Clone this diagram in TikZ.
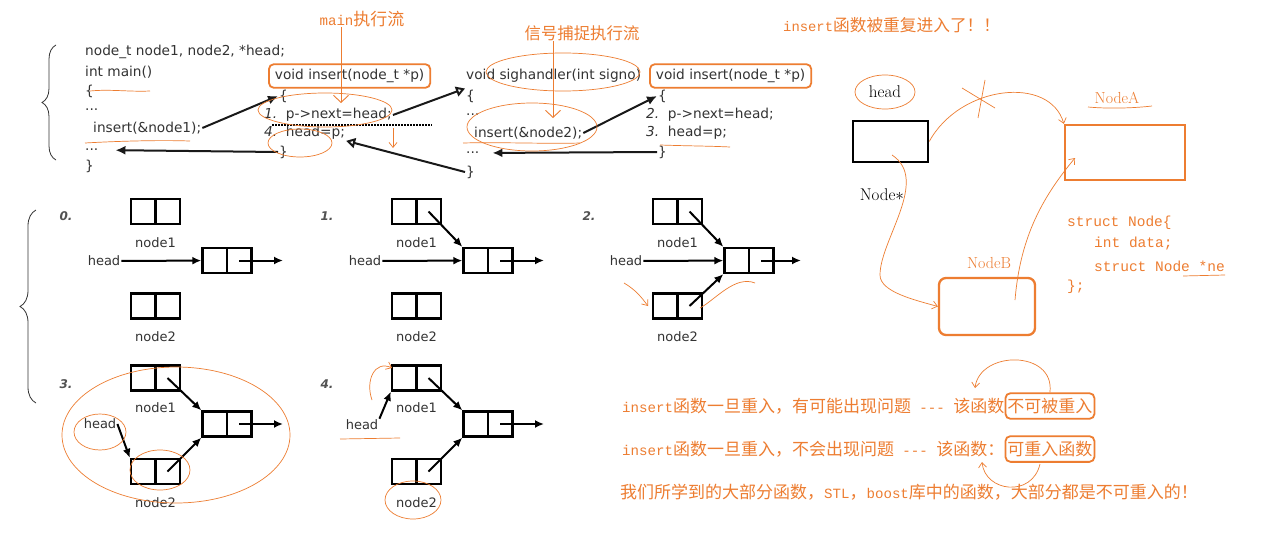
\documentclass[tikz,border=0pt]{standalone}
\usepackage{fontspec}
\newfontfamily\codefont{DejaVu Sans}[ItalicFont={DejaVu Sans Oblique},BoldItalicFont={DejaVu Sans Bold Oblique}]
\newfontfamily\cjk{Noto Sans CJK SC}
\newfontfamily\hmono{Liberation Mono}[Scale=0.83]
\newfontfamily\stfont{Liberation Mono}
\usetikzlibrary{positioning,arrows.meta,calc,decorations.pathreplacing}
\definecolor{ink}{HTML}{ED7D31}
\definecolor{codegray}{HTML}{333333}

\tikzset{
  code/.style={font=\codefont\fontsize{13.7}{16}\selectfont, text=codegray, inner sep=1pt, anchor=west},
  sigbox/.style={code, draw=ink, line width=1.8pt, rounded corners=5pt, inner xsep=6pt, inner ysep=5pt},
  call/.style={-{Latex[length=10pt,width=9pt]}, line width=2pt, black!90},
  ret/.style={-{Triangle[open,length=9pt,width=10pt]}, line width=2pt, black!90},
  flow/.style={ink, line width=0.9pt, -{Straight Barb[length=7pt,width=15pt]}},
  note/.style={font=\cjk\fontsize{17}{20}\selectfont, text=ink, inner sep=0pt, anchor=west},
  hand/.style={ink, line width=0.7pt},
  handarrow/.style={hand, -{Straight Barb[length=5pt,width=8pt]}},
  serif/.style={font=\fontsize{17}{20}\selectfont, inner sep=1pt},
  stc/.style={font=\stfont\fontsize{14.5}{16}\selectfont, text=ink, inner sep=0pt, anchor=west},
  dbox/.style={draw, line width=2.4pt, minimum width=49pt, minimum height=25pt, inner sep=0pt,
    path picture={\draw[line width=2.4pt] (path picture bounding box.north) -- (path picture bounding box.south);}},
  lbl/.style={font=\codefont\fontsize{13}{15}\selectfont, text=codegray, inner sep=1pt},
  stepno/.style={font=\codefont\bfseries\itshape\fontsize{12}{14}\selectfont, text=codegray!85},
  ptr/.style={-{Latex[length=9pt,width=8pt]}, line width=2pt}
}

\begin{document}
\begin{tikzpicture}[x=1pt,y=-1pt]
\fill[white] (0,0) rectangle (1287,538);
\useasboundingbox (0,0) rectangle (1287,538);

% braces
\draw[decorate, decoration={brace, amplitude=14pt}, line width=0.8pt, codegray] (56,160) -- (56,45);
\draw[decorate, decoration={brace, amplitude=16pt}, line width=0.8pt, codegray] (36,403) -- (36,210);

% main
\node[code] (m1) at (84,52) {node\_t node1, node2, *head;};
\node[code] (m2) at (84,72) {int main()};
\node[code] (m3) at (84,91) {\{};
\node[code] (m4) at (84,110) {...};
\node[code] (m5) at (92,128) {insert(\&node1);};
\node[code] (m6) at (84,150) {...};
\node[code] (m7) at (84,166) {\}};

% insert, first entry
\node[sigbox] (ins1) at (268,76) {void insert(node\_t *p)};
\node[code] (i1a) at (278,96) {\{};
\node[code] (i1b) at (263,115) {\textit{1.}\ \ p->next=head;};
\node[code] (i1c) at (263,133) {\textit{4.}\ \ head=p;};
\node[code] (i1d) at (278,152) {\}};
\draw[dash pattern=on 1.5pt off 1.5pt, line width=2pt] (272,125) -- (432,125);

% sighandler
\node[code] (sig) at (465,76) {void sighandler(int signo)};
\node[code] (sa) at (465,96) {\{};
\node[code] (sb) at (465,115) {...};
\node[code] (sc) at (473,133) {insert(\&node2);};
\node[code] (sd) at (465,153) {...};
\node[code] (sz) at (465,172) {\}};

% insert, second entry
\node[sigbox] (ins2) at (649,76) {void insert(node\_t *p)};
\node[code] (i2a) at (657,96) {\{};
\node[code] (i2b) at (645,115) {\textit{2.}\ \ p->next=head;};
\node[code] (i2c) at (645,133) {\textit{3.}\ \ head=p;};
\node[code] (i2d) at (657,152) {\}};

\draw[call] (m5.east) -- (i1a.west);
\draw[call, shorten >=16pt] (i1d.west) -- (m6.east);
\draw[ret] (i1b.east) -- (sa.north west);
\draw[ret] (sz.west) -- (i1c.south east);
\draw[call] (sc.east) -- (i2a.west);
\draw[call, shorten >=12pt] (i2d.west) -- (sd.east);

% flows
\node[note, anchor=center] (mflow) at (362,19) {{\hmono main}执行流};
\coordinate (mflowend) at (341,103);
\draw[flow] (mflow.south -| mflowend) -- (mflowend);
\node[note, anchor=center, font=\cjk\fontsize{16.4}{19}\selectfont] (sflow) at (582,33) {信号捕捉执行流};
\coordinate (sflowend) at (553,118);
\draw[flow] (sflow.south -| sflowend) -- (sflowend);

% scribbles on the code
\draw[hand] (90,91) .. controls (110,89) and (130,92) .. (150,91);
\draw[hand] (85,143) .. controls (120,141) and (160,140) .. (190,141);
\draw[hand] (325,110) ellipse [x radius=67, y radius=17];
\draw[hand] (300,143) ellipse [x radius=32, y radius=14];
\draw[handarrow] (393,128) -- (393,148);
\draw[hand] (563,72) ellipse [x radius=77, y radius=19];
\draw[hand] (532,127) ellipse [x radius=65, y radius=24];
\draw[hand] (463,143) .. controls (500,142) and (550,144) .. (580,143);
\draw[hand] (660,145) .. controls (690,146) and (710,146) .. (730,147);

% right part
\node[note, font=\cjk\fontsize{16.7}{19}\selectfont] (reenter) at (783,25) {{\hmono insert}函数被重复进入了！！};
\node[serif] (headlbl) at (885,92) {head};
\draw[hand] (headlbl) ellipse [x radius=30, y radius=17];
\node[draw, line width=2.5pt, minimum width=75pt, minimum height=41pt] (headbox) at (890.5,141.5) {};
\node[serif] (nodeptr) at (882,195) {Node$\ast$};
\node[draw=ink, line width=2.3pt, minimum width=120pt, minimum height=55pt] (nodeA) at (1125,152.5) {};
\node[serif, text=ink, font=\fontsize{16}{18}\selectfont] (lblA) at (1117,98) {NodeA};
\draw[hand] (1088,107) .. controls (1110,109) and (1135,108) .. (1152,106);
\node[draw=ink, line width=2.3pt, rounded corners=7pt, minimum width=96pt, minimum height=57pt] (nodeB) at (987,306.5) {};
\node[serif, text=ink, font=\fontsize{16}{18}\selectfont] (lblB) at (989,263) {NodeB};
\node[stc] (st1) at (1067,223) {struct Node\{};
\node[stc] (st2) at (1094,244) {int data;};
\node[stc] (st3) at (1094,266) {struct Node *ne};
\node[stc] (st4) at (1067,287) {\};};
\draw[hand] (1183,276) -- (1225,275);

\draw[handarrow] (headbox.east) .. controls (960,85) and (1050,75) .. (nodeA.north west);
\draw[hand] (962,88) -- (995,108);
\draw[hand] (985,80) -- (978,118);
\draw[handarrow] (1015,300) .. controls (1020,240) and (1040,200) .. (1075,158);
\draw[handarrow] (892,155) .. controls (930,180) and (880,240) .. (880,275) .. controls (880,292) and (915,300) .. (nodeB.west);

% lists, top row
\node[stepno] (n0) at (66,216) {0.};
\node[dbox] (d0a) at (155.5,211.5) {};
\node[lbl] (d0al) at (155.5,243) {node1};
\node[lbl] (d0h) at (104,261) {head};
\node[dbox] (d0m) at (227,260.5) {};
\node[dbox] (d0b) at (155.5,306) {};
\node[lbl] (d0bl) at (155.5,337) {node2};
\draw[ptr] (d0h) -- (d0m);
\draw[ptr] ($(d0m.center)+(12,0)$) -- ++(44,0);

\node[stepno] (n1) at (327,216) {1.};
\node[dbox] (d1a) at (416.5,211.5) {};
\node[lbl] (d1al) at (416.5,243) {node1};
\node[lbl] (d1h) at (365,261) {head};
\node[dbox] (d1m) at (488,260.5) {};
\node[dbox] (d1b) at (416.5,306) {};
\node[lbl] (d1bl) at (416.5,337) {node2};
\draw[ptr] (d1h) -- (d1m);
\draw[ptr] ($(d1m.center)+(12,0)$) -- ++(44,0);
\draw[ptr] ($(d1a.center)+(12,0)$) -- (d1m.north west);

\node[stepno] (n2) at (589,216) {2.};
\node[dbox] (d2a) at (677.5,211.5) {};
\node[lbl] (d2al) at (677.5,243) {node1};
\node[lbl] (d2h) at (626,261) {head};
\node[dbox] (d2m) at (749,260.5) {};
\node[dbox] (d2b) at (677.5,306) {};
\node[lbl] (d2bl) at (677.5,337) {node2};
\draw[ptr] (d2h) -- (d2m);
\draw[ptr] ($(d2m.center)+(12,0)$) -- ++(40,0);
\draw[ptr] ($(d2a.center)+(12,0)$) -- (d2m.north west);
\draw[ptr] ($(d2b.center)+(12,0)$) -- (d2m.south west);
\draw[handarrow] (624,283) .. controls (636,290) and (642,298) .. (648,306);
\draw[hand] (700,308) .. controls (715,300) and (735,275) .. (755,283);

% lists, bottom row
\node[stepno] (n3) at (66,384) {3.};
\node[dbox] (d3a) at (155.5,378) {};
\node[lbl] (d3al) at (155.5,408) {node1};
\node[lbl] (d3h) at (100,424) {head};
\node[dbox] (d3m) at (227,424) {};
\node[dbox] (d3b) at (155.5,471.5) {};
\node[lbl] (d3bl) at (155.5,503) {node2};
\draw[ptr] (d3h.east) -- (d3b.north west);
\draw[ptr] ($(d3m.center)+(12,0)$) -- ++(44,0);
\draw[ptr] ($(d3a.center)+(12,0)$) -- (d3m.north west);
\draw[ptr] ($(d3b.center)+(12,0)$) -- (d3m.south west);
\draw[hand] (176,435) ellipse [x radius=114, y radius=68];
\draw[hand] (100,432) ellipse [x radius=26, y radius=18];
\draw[hand] (160,470) ellipse [x radius=30, y radius=20];

\node[stepno] (n4) at (327,384) {4.};
\node[dbox] (d4a) at (416.5,378) {};
\node[lbl] (d4al) at (416.5,408) {node1};
\node[lbl] (d4h) at (362,425) {head};
\node[dbox] (d4m) at (488,424) {};
\node[dbox] (d4b) at (416.5,471.5) {};
\node[lbl] (d4bl) at (416.5,503) {node2};
\draw[ptr] (d4h.north east) -- (d4a.south west);
\draw[ptr] ($(d4m.center)+(12,0)$) -- ++(44,0);
\draw[ptr] ($(d4a.center)+(12,0)$) -- (d4m.north west);
\draw[ptr] ($(d4b.center)+(12,0)$) -- (d4m.south west);
\draw[hand] (413,500) ellipse [x radius=28, y radius=19];
\draw[hand] (340,439) -- (400,438);
\draw[handarrow] (372,400) .. controls (365,380) and (375,360) .. (392,368);

% conclusions
\node[note] (ln1) at (622,406) {{\hmono insert}函数一旦重入，有可能出现问题{\hmono\ -{}-{}-\ }该函数};
\node[note, draw=ink, line width=1.8pt, rounded corners=5pt, inner xsep=2pt, inner ysep=5pt, right=0pt of ln1] (nb1) {不可被重入\hspace{12pt}};
\node[note] (ln2) at (622,449) {{\hmono insert}函数一旦重入，不会出现问题{\hmono\ -{}-{}-\ }该函数：};
\node[note, draw=ink, line width=1.8pt, rounded corners=5pt, inner xsep=2pt, inner ysep=5pt, right=0pt of ln2] (nb2) {可重入函数};
\node[note] (ln3) at (620,492) {我们所学到的大部分函数，{\hmono STL}，{\hmono boost}库中的函数，大部分都是不可重入的！};
\draw[handarrow] (nb1.north) .. controls (1055,350) and (980,350) .. (975,388);
\draw[handarrow] (1040,464) .. controls (1032,498) and (985,492) .. (982,462);
\end{tikzpicture}
\end{document}
